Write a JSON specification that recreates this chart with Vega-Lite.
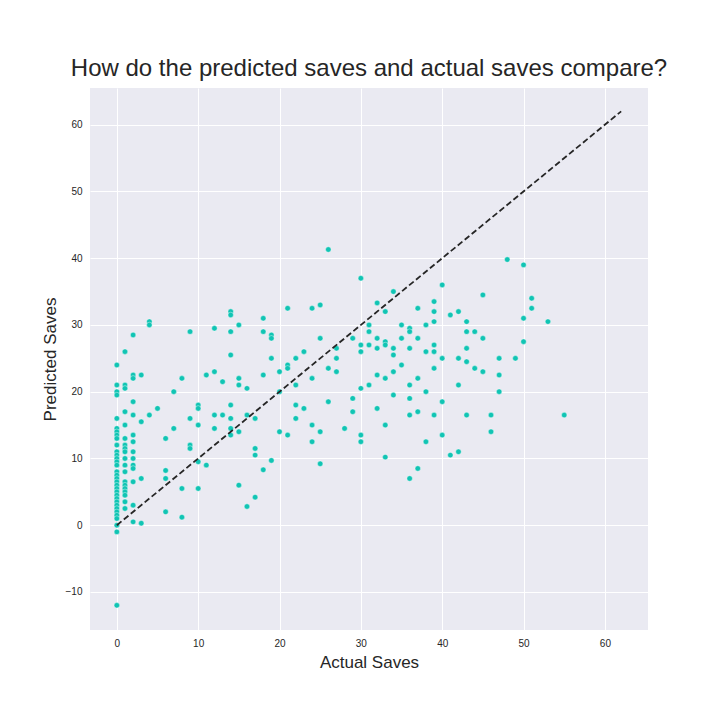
{
  "$schema": "https://vega.github.io/schema/vega-lite/v6.json",
  "autosize": "none",
  "padding": {"left": 90, "top": 88, "right": 72, "bottom": 90},
  "width": 558,
  "height": 542,
  "background": "white",
  "title": {"text": "How do the predicted saves and actual saves compare?", "fontSize": 24, "font": "Liberation Sans", "fontWeight": "normal", "color": "#262626", "offset": 7},
  "datasets": {
    "pts": [
      {"a":0,"p":24},{"a":0,"p":21},{"a":0,"p":20},{"a":0,"p":19.5},{"a":0,"p":16},{"a":0,"p":14.5},{"a":0,"p":14},{"a":0,"p":13.5},{"a":0,"p":13},{"a":0,"p":12},{"a":0,"p":11},{"a":0,"p":10.5},{"a":0,"p":10},{"a":0,"p":9.5},{"a":0,"p":9},{"a":0,"p":8},{"a":0,"p":7.5},{"a":0,"p":7},{"a":0,"p":6.5},{"a":0,"p":6},{"a":0,"p":5.5},{"a":0,"p":5},{"a":0,"p":4.5},{"a":0,"p":4},{"a":0,"p":3.5},{"a":0,"p":3},{"a":0,"p":2.5},{"a":0,"p":2},{"a":0,"p":1.5},{"a":0,"p":1},{"a":0,"p":0},{"a":0,"p":-1},{"a":0,"p":-12},
      {"a":1,"p":26},{"a":1,"p":21},{"a":1,"p":20.5},{"a":1,"p":17},{"a":1,"p":15},{"a":1,"p":13},{"a":1,"p":12},{"a":1,"p":11.5},{"a":1,"p":11},{"a":1,"p":10},{"a":1,"p":9},{"a":1,"p":8},{"a":1,"p":6.5},{"a":1,"p":6},{"a":1,"p":5.5},{"a":1,"p":5},{"a":1,"p":4.5},{"a":1,"p":3.5},{"a":1,"p":2.5},
      {"a":2,"p":28.5},{"a":2,"p":22.5},{"a":2,"p":22},{"a":2,"p":18.5},{"a":2,"p":16.5},{"a":2,"p":13.5},{"a":2,"p":12.5},{"a":2,"p":11},{"a":2,"p":10},{"a":2,"p":9},{"a":2,"p":8.5},{"a":2,"p":6.5},{"a":2,"p":3},{"a":2,"p":0.5},
      {"a":3,"p":22.5},{"a":3,"p":15.5},{"a":3,"p":7},{"a":3,"p":0.3},
      {"a":4,"p":30.5},{"a":4,"p":30},{"a":4,"p":16.5},{"a":5,"p":17.5},
      {"a":6,"p":13},{"a":6,"p":8.2},{"a":6,"p":7},{"a":6,"p":2},
      {"a":7,"p":20},{"a":7,"p":14.5},{"a":8,"p":22},{"a":8,"p":5.5},{"a":8,"p":1.2},
      {"a":9,"p":29},{"a":9,"p":16},{"a":9,"p":12},{"a":9,"p":11.5},
      {"a":10,"p":18},{"a":10,"p":17.5},{"a":10,"p":15},{"a":10,"p":9.5},{"a":10,"p":5.5},
      {"a":11,"p":22.5},{"a":11,"p":9},{"a":12,"p":29.5},{"a":12,"p":23},{"a":12,"p":16.5},{"a":12,"p":14.5},
      {"a":13,"p":21.5},{"a":13,"p":16.5},
      {"a":14,"p":32},{"a":14,"p":31.5},{"a":14,"p":29},{"a":14,"p":25.5},{"a":14,"p":18},{"a":14,"p":16},{"a":14,"p":14.5},{"a":14,"p":13.5},
      {"a":15,"p":30},{"a":15,"p":22},{"a":15,"p":21},{"a":15,"p":14},{"a":15,"p":6},
      {"a":16,"p":20.5},{"a":16,"p":16.5},{"a":16,"p":2.8},
      {"a":17,"p":11.5},{"a":17,"p":10.5},{"a":17,"p":4.2},{"a":17,"p":16},
      {"a":18,"p":31},{"a":18,"p":29},{"a":18,"p":22.5},{"a":18,"p":8.3},{"a":19,"p":9.7},
      {"a":19,"p":28.5},{"a":19,"p":28},{"a":19,"p":25},
      {"a":20,"p":23},{"a":20,"p":20},{"a":20,"p":14},
      {"a":21,"p":32.5},{"a":21,"p":24},{"a":21,"p":23.5},{"a":21,"p":13.5},
      {"a":22,"p":25},{"a":22,"p":21},{"a":22,"p":18},{"a":22,"p":16},
      {"a":23,"p":26},{"a":23,"p":17.5},
      {"a":24,"p":32.5},{"a":24,"p":22},{"a":24,"p":15},{"a":24,"p":12.5},
      {"a":25,"p":33},{"a":25,"p":28},{"a":25,"p":14},{"a":25,"p":9.2},
      {"a":26,"p":41.3},{"a":26,"p":23.5},{"a":26,"p":18.5},
      {"a":27,"p":26.5},{"a":27,"p":23},{"a":27,"p":25},{"a":28,"p":14.5},
      {"a":29,"p":28},{"a":29,"p":19},{"a":29,"p":17},
      {"a":30,"p":37},{"a":30,"p":27},{"a":30,"p":26},{"a":30,"p":20.5},{"a":30,"p":13.5},{"a":30,"p":12.5},
      {"a":31,"p":30},{"a":31,"p":29},{"a":31,"p":27},{"a":31,"p":21},
      {"a":32,"p":33.3},{"a":32,"p":28},{"a":32,"p":26.5},{"a":32,"p":22.5},{"a":32,"p":17.5},
      {"a":33,"p":32},{"a":33,"p":27.5},{"a":33,"p":27},{"a":33,"p":22},{"a":33,"p":15},{"a":33,"p":10.2},
      {"a":34,"p":35},{"a":34,"p":26.5},{"a":34,"p":25.5},{"a":34,"p":23},{"a":34,"p":19.5},
      {"a":35,"p":30},{"a":35,"p":28},{"a":35,"p":24},
      {"a":36,"p":29.5},{"a":36,"p":29},{"a":36,"p":26.5},{"a":36,"p":21},{"a":36,"p":19},{"a":36,"p":16.5},{"a":36,"p":7},
      {"a":37,"p":32.5},{"a":37,"p":28},{"a":37,"p":22},{"a":37,"p":17},{"a":37,"p":8.5},
      {"a":38,"p":30},{"a":38,"p":26},{"a":38,"p":20},{"a":38,"p":12.5},
      {"a":39,"p":33.5},{"a":39,"p":32},{"a":39,"p":30.5},{"a":39,"p":27},{"a":39,"p":26},{"a":39,"p":23.5},{"a":39,"p":16.5},
      {"a":40,"p":36},{"a":40,"p":25},{"a":40,"p":18.5},{"a":40,"p":13.5},
      {"a":41,"p":31.5},{"a":41,"p":10.5},
      {"a":42,"p":32},{"a":42,"p":25},{"a":42,"p":21},{"a":42,"p":11},
      {"a":43,"p":30.5},{"a":43,"p":29},{"a":43,"p":26.5},{"a":43,"p":24.5},{"a":43,"p":16.5},
      {"a":44,"p":29},{"a":44,"p":23.5},
      {"a":45,"p":34.5},{"a":45,"p":28},{"a":45,"p":23},
      {"a":46,"p":16.5},{"a":46,"p":14},
      {"a":47,"p":25},{"a":47,"p":22.5},{"a":47,"p":20},
      {"a":48,"p":39.8},{"a":49,"p":25},
      {"a":50,"p":39},{"a":50,"p":31},{"a":50,"p":27.5},
      {"a":51,"p":34},{"a":51,"p":32.5},{"a":53,"p":30.5},{"a":55,"p":16.5}
    ],
    "diag": [{"a":0,"p":0},{"a":62,"p":62}]
  },
  "layer": [
    {
      "data": {"name": "pts"},
      "mark": {"type": "circle", "size": 30, "opacity": 1, "color": "#11c4b4", "stroke": "white", "strokeWidth": 0.4},
      "encoding": {
        "x": {"field": "a", "type": "quantitative", "title": "Actual Saves", "scale": {"domain": [-3.3, 65.3], "nice": false, "zero": false}, "axis": {"values": [0,10,20,30,40,50,60]}},
        "y": {"field": "p", "type": "quantitative", "title": "Predicted Saves", "scale": {"domain": [-15.7, 65.5], "nice": false, "zero": false}, "axis": {"values": [-10,0,10,20,30,40,50,60]}}
      }
    },
    {
      "data": {"name": "diag"},
      "mark": {"type": "line", "color": "#262626", "strokeDash": [6, 3], "strokeWidth": 1.8},
      "encoding": {
        "x": {"field": "a", "type": "quantitative"},
        "y": {"field": "p", "type": "quantitative"}
      }
    }
  ],
  "config": {
    "view": {"fill": "#EAEAF2", "stroke": null},
    "axis": {"grid": true, "gridColor": "white", "gridWidth": 1, "domain": false, "ticks": false, "labelFont": "Liberation Sans", "labelFontSize": 10, "labelColor": "#262626", "labelPadding": 8, "titleFont": "Liberation Sans", "titleFontSize": 17, "titleFontWeight": "normal", "titleColor": "#262626", "titlePadding": 6}
  }
}
